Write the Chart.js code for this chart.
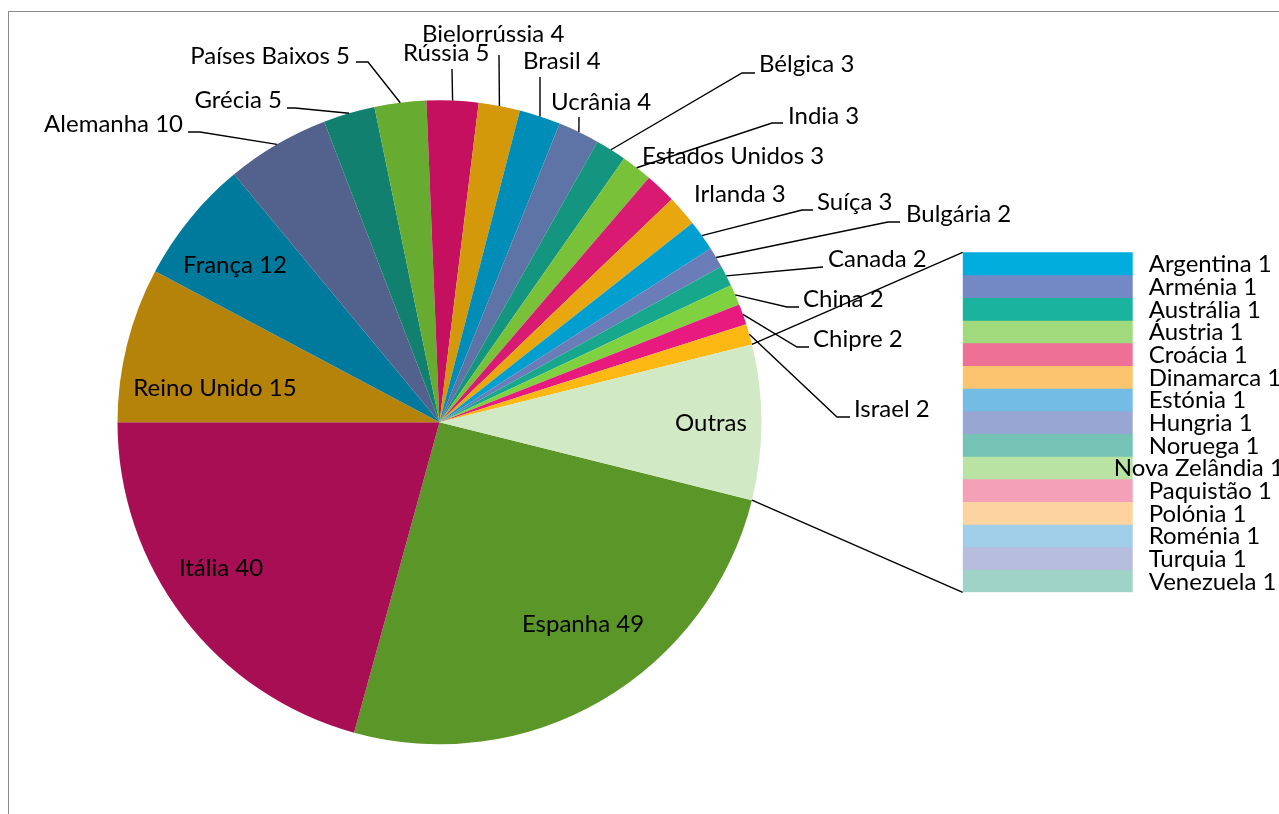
<!DOCTYPE html>
<html>
<head>
<meta charset="utf-8">
<script src="https://cdn.jsdelivr.net/npm/chart.js@4.4.1/dist/chart.umd.min.js"></script>
<style>
  html, body { margin: 0; padding: 0; background: #fff; overflow: hidden; }
  #wrap { position: relative; width: 1279px; height: 814px; }
  #wrap canvas { position: absolute; left: 0; top: 0; }
  #frame { position: absolute; left: 8px; top: 11px; right: -10px; bottom: -10px;
           border-left: 1.5px solid #8a8a8a; border-top: 1.5px solid #8a8a8a; }
</style>
</head>
<body>
<div id="wrap">
  <div id="frame"></div>
  <canvas id="pieChart" width="1279" height="814"></canvas>
  <canvas id="barChart" width="1279" height="814"></canvas>
</div>
<script>
// Main pie, clockwise from Espanha; last slice "Outras" is the sum of the bar
const pieCountries = ['Espanha', 'Itália', 'Reino Unido', 'França', 'Alemanha', 'Grécia', 'Países Baixos',
    'Rússia', 'Bielorrússia', 'Brasil', 'Ucrânia', 'Bélgica', 'India', 'Estados Unidos', 'Irlanda',
    'Suíça', 'Bulgária', 'Canada', 'China', 'Chipre', 'Israel'];
const pieValues = [49, 40, 15, 12, 10, 5, 5, 5, 4, 4, 4, 3, 3, 3, 3, 3, 2, 2, 2, 2, 2];
const pieColors = ['#5b9629', '#a70e53', '#b5830a', '#007a9c', '#52628d', '#12806e', '#67ac30',
    '#c4105e', '#d3990a', '#008db8', '#5e73a6', '#14957f', '#7ac13a', '#d81a72', '#e9a70f',
    '#009fcf', '#6b7db8', '#17a78d', '#7fd13f', '#e8197f', '#fdb813'];

// Countries with a single entry, shown in the bar
const otherCountries = ['Argentina', 'Arménia', 'Austrália', 'Áustria', 'Croácia', 'Dinamarca', 'Estónia',
    'Hungria', 'Noruega', 'Nova Zelândia', 'Paquistão', 'Polónia', 'Roménia', 'Turquia', 'Venezuela'];
const otherValues = [1, 1, 1, 1, 1, 1, 1, 1, 1, 1, 1, 1, 1, 1, 1];
const otherColors = ['#00addc', '#7389c5', '#19b39e', '#a1da7c', '#ef7097', '#fdc46f', '#73bce4',
    '#98a6d4', '#74c3b4', '#b8e3a2', '#f3a0b8', '#fdd39f', '#a0cee8', '#b6bddd', '#a0d3c7'];

const othersLabel = 'Outras';
const othersColor = '#d1e9c5';
const othersTotal = otherValues.reduce((a, b) => a + b, 0);

const labels = [...pieCountries, othersLabel];
const values = [...pieValues, othersTotal];
const colors = [...pieColors, othersColor];
const total = values.reduce((a, b) => a + b, 0);

const FONT = '24px Lato, "Open Sans", sans-serif';
const BAR_FONT = '24px Lato, "Open Sans", sans-serif';

// Where each data label sits (x, baseline) and the leader line after the slice edge
const labelLayout = {
    'Espanha':        { x: 583, y: 632, align: 'center' },
    'Itália':         { x: 221, y: 576, align: 'center' },
    'Reino Unido':    { x: 215, y: 396, align: 'center' },
    'França':         { x: 235, y: 273, align: 'center' },
    'Alemanha':       { x: 183, y: 132, align: 'right', line: [[200, 132], [188, 132]] },
    'Grécia':         { x: 282, y: 108, align: 'right', line: [[295, 108], [287, 108]] },
    'Países Baixos':  { x: 350, y: 64,  align: 'right', line: [[368, 62], [356, 62]] },
    'Rússia':         { x: 403, y: 61,  align: 'left',  line: [[452, 69]] },
    'Bielorrússia':   { x: 422, y: 42,  align: 'left',  line: [[499, 55]] },
    'Brasil':         { x: 523, y: 69,  align: 'left',  line: [[540, 77]] },
    'Ucrânia':        { x: 551, y: 110, align: 'left',  line: [[579, 117]] },
    'Bélgica':        { x: 759, y: 72,  align: 'left',  line: [[742, 73], [755, 73]] },
    'India':          { x: 788, y: 124, align: 'left',  line: [[772, 123], [783, 123]] },
    'Estados Unidos': { x: 642, y: 164, align: 'left' },
    'Irlanda':        { x: 694, y: 202, align: 'left' },
    'Suíça':          { x: 817, y: 210, align: 'left',  line: [[802, 210], [813, 210]] },
    'Bulgária':       { x: 906, y: 222, align: 'left',  line: [[888, 222], [900, 222]] },
    'Canada':         { x: 828, y: 267, align: 'left',  line: [[812, 268], [823, 267]] },
    'China':          { x: 803, y: 307, align: 'left',  line: [[787, 307], [799, 307]] },
    'Chipre':         { x: 813, y: 347, align: 'left',  line: [[797, 347], [809, 347]] },
    'Israel':         { x: 854, y: 417, align: 'left',  line: [[837, 417], [850, 417]] },
    'Outras':         { x: 711, y: 431, align: 'center', noValue: true }
};

const pieLabelsPlugin = {
    id: 'pieLabels',
    afterDraw(chart) {
        const ctx = chart.ctx;
        const meta = chart.getDatasetMeta(0);
        ctx.save();
        ctx.font = FONT;
        ctx.fillStyle = '#000';
        ctx.strokeStyle = '#000';
        ctx.lineWidth = 1.4;
        ctx.textBaseline = 'alphabetic';
        meta.data.forEach((arc, i) => {
            const name = labels[i];
            const lay = labelLayout[name];
            if (!lay) return;
            const p = arc.getProps(['x', 'y', 'startAngle', 'endAngle', 'outerRadius'], true);
            if (lay.line) {
                const mid = (p.startAngle + p.endAngle) / 2;
                ctx.beginPath();
                ctx.moveTo(p.x + p.outerRadius * Math.cos(mid), p.y + p.outerRadius * Math.sin(mid));
                lay.line.forEach(pt => ctx.lineTo(pt[0], pt[1]));
                ctx.stroke();
            }
            ctx.textAlign = lay.align;
            ctx.fillText(lay.noValue ? name : name + ' ' + values[i], lay.x, lay.y);
        });
        ctx.restore();
    }
};

const pieChart = new Chart(document.getElementById('pieChart'), {
    type: 'pie',
    data: {
        labels: labels,
        datasets: [{ data: values, backgroundColor: colors, borderWidth: 0 }]
    },
    options: {
        responsive: false,
        animation: false,
        rotation: 90 + (othersTotal / total) * 180,
        layout: { padding: { left: 117.5, right: 517.5, top: 100.3, bottom: 69.7 } },
        plugins: { legend: { display: false }, tooltip: { enabled: false } }
    },
    plugins: [pieLabelsPlugin]
});

// nudge for the label Excel pulled left so it fits
const barLabelShift = { 'Nova Zelândia': -35 };

const barPlugin = {
    id: 'barExtras',
    afterDraw(chart) {
        const ctx = chart.ctx;
        ctx.save();
        // labels
        ctx.font = BAR_FONT;
        ctx.fillStyle = '#000';
        ctx.textAlign = 'left';
        ctx.textBaseline = 'middle';
        let left = Infinity;
        chart.data.datasets.forEach((ds, i) => {
            const el = chart.getDatasetMeta(i).data[0];
            const p = el.getProps(['x', 'y', 'base', 'width'], true);
            left = Math.min(left, p.x - p.width / 2);
            const x = p.x + p.width / 2 + 16 + (barLabelShift[ds.label] || 0);
            ctx.fillText(ds.label + ' ' + ds.data[0], x, (p.y + p.base) / 2 + 1);
        });
        // connector lines from the "Outras" slice to the bar
        const arc = pieChart.getDatasetMeta(0).data[labels.length - 1];
        const a = arc.getProps(['x', 'y', 'startAngle', 'endAngle', 'outerRadius'], true);
        const top = chart.scales.y.getPixelForValue(0);
        const bottom = chart.scales.y.getPixelForValue(othersTotal);
        ctx.strokeStyle = '#000';
        ctx.lineWidth = 1.4;
        ctx.beginPath();
        ctx.moveTo(a.x + a.outerRadius * Math.cos(a.startAngle), a.y + a.outerRadius * Math.sin(a.startAngle));
        ctx.lineTo(left, top);
        ctx.moveTo(a.x + a.outerRadius * Math.cos(a.endAngle), a.y + a.outerRadius * Math.sin(a.endAngle));
        ctx.lineTo(left, bottom);
        ctx.stroke();
        ctx.restore();
    }
};

new Chart(document.getElementById('barChart'), {
    type: 'bar',
    data: {
        labels: [othersLabel],
        datasets: otherCountries.map((name, i) => ({
            label: name,
            data: [otherValues[i]],
            backgroundColor: otherColors[i],
            borderWidth: 0,
            barPercentage: 1,
            categoryPercentage: 1
        }))
    },
    options: {
        responsive: false,
        animation: false,
        layout: { padding: { left: 962.7, right: 146.3, top: 252.3, bottom: 221.7 } },
        scales: {
            x: { display: false, stacked: true },
            y: { display: false, stacked: true, reverse: true, min: 0, max: othersTotal }
        },
        plugins: { legend: { display: false }, tooltip: { enabled: false } }
    },
    plugins: [barPlugin]
});
</script>
</body>
</html>
